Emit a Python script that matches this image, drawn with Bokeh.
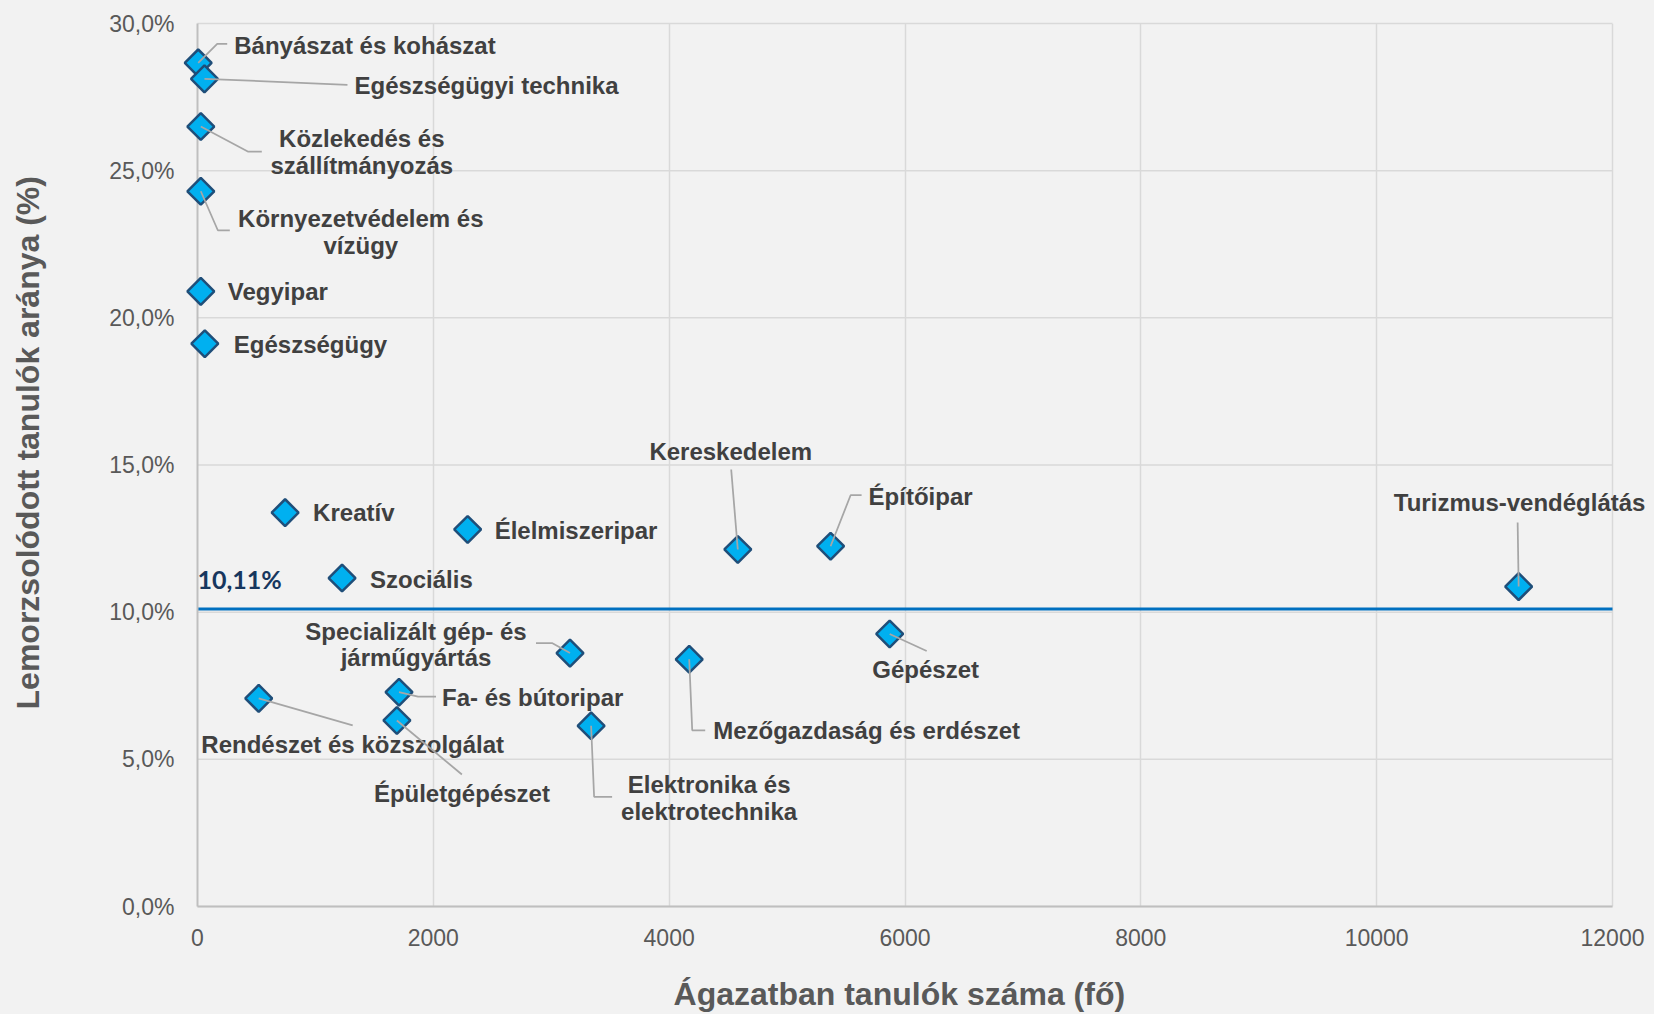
import math
from bokeh.plotting import figure
from bokeh.models import Range1d, FixedTicker, ColumnDataSource, Label
from bokeh.embed import file_html
from bokeh.resources import INLINE

# ---------------- data ----------------
sectors = [
    "Bányászat és kohászat", "Egészségügyi technika", "Közlekedés és szállítmányozás",
    "Környezetvédelem és vízügy", "Vegyipar", "Egészségügy", "Kreatív", "Élelmiszeripar",
    "Szociális", "Kereskedelem", "Építőipar", "Turizmus-vendéglátás", "Gépészet",
    "Specializált gép- és járműgyártás", "Mezőgazdaság és erdészet", "Fa- és bútoripar",
    "Rendészet és közszolgálat", "Épületgépészet", "Elektronika és elektrotechnika",
]
students = [6, 59, 28, 28, 28, 62, 743, 2291, 1226, 4582, 5369, 11204, 5870,
            3159, 4170, 1709, 519, 1691, 3338]
dropout = [28.66, 28.12, 26.5, 24.3, 20.9, 19.12, 13.38, 12.81, 11.16, 12.13, 12.24,
           10.87, 9.26, 8.61, 8.40, 7.28, 7.07, 6.32, 6.14]
average = 10.11
average_label = "10,11%"
x_ticks = [0, 2000, 4000, 6000, 8000, 10000, 12000]
x_tick_labels = ["0", "2000", "4000", "6000", "8000", "10000", "12000"]
y_ticks = [0, 5, 10, 15, 20, 25, 30]
y_tick_labels = ["0,0%", "5,0%", "10,0%", "15,0%", "20,0%", "25,0%", "30,0%"]
x_title = "Ágazatban tanulók száma (fő)"
y_title = "Lemorzsolódott tanulók aránya (%)"

# ---------------- label layout (screen px offsets from the point; +dy = down) ----
# (point index, text line, dx, dy, align)
label_lines = [
    (0, "Bányászat és kohászat", 36, -17, "left"),
    (1, "Egészségügyi technika", 150, 7, "left"),
    (2, "Közlekedés és", 161, 12, "center"),
    (2, "szállítmányozás", 161, 39, "center"),
    (3, "Környezetvédelem és", 160, 27, "center"),
    (3, "vízügy", 160, 54, "center"),
    (4, "Vegyipar", 27, 0, "left"),
    (5, "Egészségügy", 29, 1, "left"),
    (6, "Kreatív", 28, 0, "left"),
    (7, "Élelmiszeripar", 27, 1, "left"),
    (8, "Szociális", 28, 1, "left"),
    (9, "Kereskedelem", -7, -98, "center"),
    (10, "Építőipar", 38, -50, "left"),
    (11, "Turizmus-vendéglátás", 1, -84, "center"),
    (12, "Gépészet", 36, 36, "center"),
    (13, "Specializált gép- és", -154, -22, "center"),
    (13, "járműgyártás", -154, 4, "center"),
    (14, "Mezőgazdaság és erdészet", 24, 71, "left"),
    (15, "Fa- és bútoripar", 43, 5, "left"),
    (16, "Rendészet és közszolgálat", 94, 46, "center"),
    (17, "Épületgépészet", 65, 73, "center"),
    (18, "Elektronika és", 118, 59, "center"),
    (18, "elektrotechnika", 118, 86, "center"),
]
leaders = [
    (0, [(0, 0), (19, -19), (29, -19)]),
    (1, [(0, 0), (143, 6)]),
    (2, [(0, 0), (47, 25), (61, 25)]),
    (3, [(0, 0), (17, 39), (29, 39)]),
    (9, [(0, 0), (-6.6, -80)]),
    (10, [(0, 0), (20, -51), (31, -51)]),
    (11, [(0, 0), (-1, -64)]),
    (12, [(0, 0), (37, 17)]),
    (13, [(0, 0), (-18, -10), (-34, -10)]),
    (14, [(0, 0), (3, 71), (16, 71)]),
    (15, [(0, 0), (19, 4.5), (37, 4.5)]),
    (16, [(0, 0), (94, 27)]),
    (17, [(0, 0), (65, 54)]),
    (18, [(0, 0), (3, 71), (21, 71)]),
]

BG = "#f2f2f2"
GRID = "#d9d9d9"
TITLE_COLOR = "#595959"
LEFT, TOP, BOTTOM = 197, 23, 108
PLOT_W_PX = 1415          # pixels used by 0..12000
FRAME_W = 1654 - LEFT     # frame runs to the right edge so labels are not clipped
FRAME_H = 1014 - TOP - BOTTOM
X0, X1 = 0, 12000
Y0, Y1 = 0, 30
ux = (X1 - X0) / PLOT_W_PX   # data units per px
uy = (Y1 - Y0) / FRAME_H
X_VIEW_END = X0 + FRAME_W * ux
NBSP = "\u00a0"

p = figure(width=1654, height=1014, output_backend="svg", toolbar_location=None,
           x_range=Range1d(X0, X_VIEW_END), y_range=Range1d(Y0, Y1),
           min_border_left=LEFT, min_border_right=0, min_border_top=TOP,
           min_border_bottom=BOTTOM)
p.background_fill_color = BG
p.border_fill_color = BG
p.outline_line_color = None

for ax in (p.xaxis[0], p.yaxis[0]):
    ax.major_tick_line_color = None
    ax.minor_tick_line_color = None
    ax.axis_line_color = "#bfbfbf"
    ax.axis_line_width = 2
    ax.major_label_text_font = "Liberation Sans"
    ax.major_label_text_font_size = "23px"
    ax.major_label_text_color = TITLE_COLOR
    ax.axis_label_text_font = "Liberation Sans"
    ax.axis_label_text_font_style = "bold"
    ax.axis_label_text_font_size = "32px"
    ax.axis_label_text_color = TITLE_COLOR

p.xaxis.ticker = FixedTicker(ticks=x_ticks)
p.xaxis.major_label_overrides = {t: l for t, l in zip(x_ticks, x_tick_labels)}
p.xaxis.bounds = (X0, X1)
p.yaxis.ticker = FixedTicker(ticks=y_ticks)
p.yaxis.major_label_overrides = {t: l for t, l in zip(y_ticks, y_tick_labels)}
p.xaxis.major_label_standoff = 16
p.yaxis.major_label_standoff = 17
# titles: padding shifts the centred text toward the 0..12000 area's centre
p.xaxis.axis_label = x_title + NBSP * 6
p.yaxis.axis_label = NBSP * 5 + y_title
p.xaxis.axis_label_standoff = 27
p.yaxis.axis_label_standoff = 60

p.xgrid.grid_line_color = GRID
p.xgrid.grid_line_width = 1.5
p.ygrid.visible = False
# horizontal grid lines limited to the 0..12000 area
p.segment(x0=[X0] * len(y_ticks), y0=y_ticks, x1=[X1] * len(y_ticks), y1=y_ticks,
          line_color=GRID, line_width=1.5, level="guide")

# average line
p.line([X0, X1], [average, average], line_color="#0070c0", line_width=3)
p.add_layout(Label(x=X0, y=average + 30 * uy, text=average_label, text_align="left",
                   text_baseline="middle", text_font="Lato", text_font_style="bold",
                   text_font_size="25px", text_color="#17375e"))

# markers (overlay level so they are not clipped at the axis)
src = ColumnDataSource(dict(x=students, y=dropout, name=sectors))
p.scatter("x", "y", source=src, marker="square", angle=math.pi / 4, size=19,
          fill_color="#00b0f0", line_color="#1f4e79", line_width=2.5, level="overlay")

# leader lines
lx, ly = [], []
for i, path in leaders:
    lx.append([students[i] + dx * ux for dx, dy in path])
    ly.append([dropout[i] - dy * uy for dx, dy in path])
p.multi_line(lx, ly, line_color="#a6a6a6", line_width=1.75, level="overlay")

# labels
for i, t, dx, dy, a in label_lines:
    p.add_layout(Label(x=students[i] + dx * ux, y=dropout[i] - dy * uy, text=t,
                       text_align=a, text_baseline="middle", text_font="Liberation Sans",
                       text_font_style="bold", text_font_size="24px", text_color="#404040"))

html = file_html(p, INLINE)
html = html.replace("<head>", "<head><style>html,body{background:#f2f2f2;}</style>", 1)
open("out.html", "w").write(html)
